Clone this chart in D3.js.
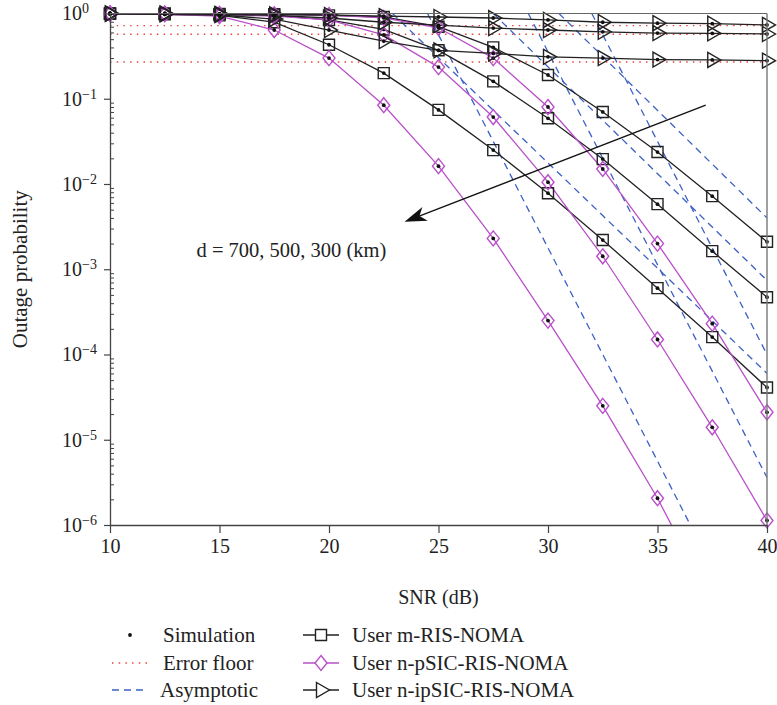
<!DOCTYPE html>
<html><head><meta charset="utf-8">
<script src="https://cdn.jsdelivr.net/npm/d3@7"></script>
<style>
body{margin:0;background:#fff}
svg{display:block}
text{font-family:"Liberation Serif","Times New Roman",serif;fill:#222}
</style>
</head><body>
<svg id="chart" width="777" height="705"></svg>
<script>
// ---------------- data ----------------
const snr = [10, 12.5, 15, 17.5, 20, 22.5, 25, 27.5, 30, 32.5, 35, 37.5, 40];
const xTicks = [10, 15, 20, 25, 30, 35, 40];
const yExponents = [0, -1, -2, -3, -4, -5, -6];

// User m-RIS-NOMA (squares), three distances
const mUser1 = [0.99, 0.98, 0.95, 0.79, 0.43, 0.20, 0.074, 0.025, 0.0078, 0.0022, 6.0e-4, 1.6e-4, 4.1e-5];
const mUser2 = [1.0, 0.99, 0.98, 0.95, 0.84, 0.65, 0.37, 0.16, 0.059, 0.0196, 0.0058, 0.00163, 4.7e-4];
const mUser3 = [1.0, 1.0, 0.99, 0.98, 0.95, 0.91, 0.70, 0.40, 0.19, 0.070, 0.0237, 0.0072, 0.0021];

// User n-pSIC-RIS-NOMA (diamonds)
const pUser1 = [0.99, 0.98, 0.93, 0.64, 0.30, 0.084, 0.0162, 0.0023, 2.5e-4, 2.5e-5, 2.06e-6, 1.2e-7, null];
const pUser2 = [1.0, 0.99, 0.97, 0.93, 0.84, 0.56, 0.235, 0.061, 0.0105, 0.00142, 1.5e-4, 1.4e-5, 1.13e-6];
const pUser3 = [1.0, 1.0, 0.99, 0.98, 0.96, 0.89, 0.68, 0.30, 0.08, 0.015, 0.002, 2.3e-4, 2.1e-5];

// User n-ipSIC-RIS-NOMA (triangles)
const iUser1 = [0.99, 0.98, 0.96, 0.86, 0.64, 0.475, 0.37, 0.34, 0.31, 0.30, 0.288, 0.285, 0.28];
const iUser2 = [1.0, 0.99, 0.98, 0.95, 0.885, 0.79, 0.73, 0.675, 0.64, 0.61, 0.59, 0.585, 0.575];
const iUser3 = [1.0, 1.0, 0.99, 0.98, 0.96, 0.93, 0.91, 0.885, 0.84, 0.79, 0.77, 0.76, 0.735];

// Error floors (ipSIC)
const errorFloors = [0.72, 0.57, 0.27];

// Asymptotic lines: [snr, value] endpoints
const asymM1 = [[22.9, 1], [40, 6.0e-5]];
const asymM2 = [[27.5, 1], [40, 7.4e-4]];
const asymM3 = [[30.5, 1], [40, 4.0e-3]];
const asymP1 = [[24.5, 1], [36.5, 1e-6]];
const asymP2 = [[29.1, 1], [40, 3.6e-6]];
const asymP3 = [[32.0, 1], [40, 1e-4]];

// annotation
const annoText = "d = 700, 500, 300 (km)";
const arrowFrom = [37.2, 0.084];
const arrowTo = [23.45, 0.0036];
const annoPos = [13.95, 1.4e-3];

// legend labels
const legendLeft = ["Simulation", "Error floor", "Asymptotic"];
const legendRight = ["User m-RIS-NOMA", "User n-pSIC-RIS-NOMA", "User n-ipSIC-RIS-NOMA"];

// ---------------- drawing ----------------
const BLACK = "#222", PINK = "#b94fc9", BLUE = "#3d62c4", RED = "#e8463a";
const svg = d3.select("#chart");
const L = 110, R = 767, T = 13.5, B = 525;
const x = d3.scaleLinear().domain([10, 40]).range([L, R]);
const y = d3.scaleLog().domain([1e-6, 1]).range([B, T]);

svg.append("defs").append("clipPath").attr("id", "plotclip")
  .append("rect").attr("x", L).attr("y", T).attr("width", R - L).attr("height", B - T);

const plot = svg.append("g").attr("clip-path", "url(#plotclip)");

// error floors
errorFloors.forEach(v => {
  plot.append("line").attr("x1", x(10)).attr("x2", x(40)).attr("y1", y(v)).attr("y2", y(v))
    .attr("stroke", RED).attr("stroke-width", 1.4).attr("stroke-dasharray", "1.5,5.2");
});

// asymptotes
const aLine = d3.line().x(d => x(d[0])).y(d => y(d[1]));
[asymM1, asymM2, asymM3, asymP1, asymP2, asymP3].forEach(a => {
  plot.append("path").attr("d", aLine(a)).attr("fill", "none").attr("stroke", BLUE)
    .attr("stroke-width", 1.3).attr("stroke-dasharray", "7,5");
});

// curves
const series = [
  {vals: mUser1, color: BLACK, mk: "square"},
  {vals: mUser2, color: BLACK, mk: "square"},
  {vals: mUser3, color: BLACK, mk: "square"},
  {vals: pUser1, color: PINK, mk: "diamond"},
  {vals: pUser2, color: PINK, mk: "diamond"},
  {vals: pUser3, color: PINK, mk: "diamond"},
  {vals: iUser1, color: BLACK, mk: "tri"},
  {vals: iUser2, color: BLACK, mk: "tri"},
  {vals: iUser3, color: BLACK, mk: "tri"}
];
const cLine = d3.line().defined(d => d[1] != null).x(d => x(d[0])).y(d => y(d[1]));
series.forEach(s => {
  const pts = snr.map((v, i) => [v, s.vals[i]]);
  plot.append("path").attr("d", cLine(pts)).attr("fill", "none")
    .attr("stroke", s.color).attr("stroke-width", 1.3);
});

function markerPath(type) {
  if (type === "square") return "M-5.5,-5.5H5.5V5.5H-5.5Z";
  if (type === "diamond") return "M0,-7.5L6,0L0,7.5L-6,0Z";
  return "M-4.5,-7.5L8.5,0L-4.5,7.5Z";
}
const mg = svg.append("g");
series.forEach(s => {
  snr.forEach((v, i) => {
    const val = s.vals[i];
    if (val == null || val < 1e-6) return;
    mg.append("path").attr("d", markerPath(s.mk))
      .attr("transform", `translate(${x(v)},${y(val)})`)
      .attr("fill", "none").attr("stroke", s.color).attr("stroke-width", 1.4);
    mg.append("circle").attr("cx", x(v)).attr("cy", y(val)).attr("r", 1.9).attr("fill", "#111");
  });
});

// frame (top/right)
svg.append("line").attr("x1", L).attr("x2", R).attr("y1", T).attr("y2", T).attr("stroke", "#666").attr("stroke-width", 1.2);
svg.append("line").attr("x1", R).attr("x2", R).attr("y1", T).attr("y2", B).attr("stroke", "#777").attr("stroke-width", 1.4);

// x axis
const xAxis = svg.append("g").attr("transform", `translate(0,${B})`)
  .call(d3.axisBottom(x).tickValues(xTicks).tickSize(8).tickSizeOuter(0).tickPadding(6).tickFormat(d3.format("d")));
xAxis.select(".domain").attr("stroke", "#444").attr("stroke-width", 1.3);
xAxis.selectAll(".tick line").attr("stroke", "#444").attr("stroke-width", 1.2);
xAxis.selectAll("text").attr("font-size", 20).attr("font-family", "Liberation Serif").attr("fill", "#222");

// y axis: minor ticks inward
const minor = [];
for (let e = -6; e < 0; e++) for (let k = 2; k <= 9; k++) minor.push(k * Math.pow(10, e));
const yMinor = svg.append("g").attr("transform", `translate(${L},0)`)
  .call(d3.axisRight(y).tickValues(minor).tickSize(4).tickFormat(""));
yMinor.select(".domain").remove();
yMinor.selectAll(".tick line").attr("stroke", "#444").attr("stroke-width", 1);

const yAxis = svg.append("g").attr("transform", `translate(${L},0)`)
  .call(d3.axisLeft(y).tickValues(yExponents.map(e => Math.pow(10, e))).tickSize(6).tickSizeOuter(0).tickFormat(""));
yAxis.select(".domain").attr("stroke", "#444").attr("stroke-width", 1.3);
yAxis.selectAll(".tick line").attr("stroke", "#444").attr("stroke-width", 1.2).attr("x2", -6);
yAxis.selectAll(".tick").each(function(d) {
  const e = Math.round(Math.log10(d));
  const t = d3.select(this).append("text").attr("x", -48).attr("y", 0).attr("dy", "0.32em")
    .attr("text-anchor", "start").attr("font-size", 20).attr("fill", "#222");
  t.append("tspan").text("10");
  t.append("tspan").attr("dy", "-0.5em").attr("font-size", 14).text(e === 0 ? "0" : "\u2212" + Math.abs(e));
});

// axis titles
svg.append("text").attr("x", (L + R) / 2).attr("y", 604).attr("text-anchor", "middle")
  .attr("font-size", 20).text("SNR (dB)");
svg.append("text").attr("transform", `translate(27,${(T + B) / 2}) rotate(-90)`)
  .attr("text-anchor", "middle").attr("font-size", 21).text("Outage probability");

// annotation arrow
const ax1 = x(arrowFrom[0]), ay1 = y(arrowFrom[1]), ax2 = x(arrowTo[0]), ay2 = y(arrowTo[1]);
const ang = Math.atan2(ay1 - ay2, ax1 - ax2) * 180 / Math.PI;
svg.append("line").attr("x1", ax1).attr("y1", ay1)
  .attr("x2", ax2 + 15 * Math.cos(ang * Math.PI / 180)).attr("y2", ay2 + 15 * Math.sin(ang * Math.PI / 180))
  .attr("stroke", "#111").attr("stroke-width", 1.3);
svg.append("path").attr("d", "M0,0L22,-7.5L16,0L22,7.5Z")
  .attr("transform", `translate(${ax2},${ay2}) rotate(${ang})`).attr("fill", "#111");
svg.append("text").attr("x", x(annoPos[0])).attr("y", y(annoPos[1])).attr("font-size", 20.5).text(annoText);

// legend
const rowY = [635, 663, 690];
const lg = svg.append("g");
// left column
lg.append("circle").attr("cx", 130).attr("cy", rowY[0]).attr("r", 1.9).attr("fill", "#111");
lg.append("line").attr("x1", 112).attr("x2", 148).attr("y1", rowY[1]).attr("y2", rowY[1])
  .attr("stroke", RED).attr("stroke-width", 1.3).attr("stroke-dasharray", "1.5,5.2");
lg.append("line").attr("x1", 112).attr("x2", 148).attr("y1", rowY[2]).attr("y2", rowY[2])
  .attr("stroke", BLUE).attr("stroke-width", 1.3).attr("stroke-dasharray", "7,5");
legendLeft.forEach((t, i) => {
  lg.append("text").attr("x", i === 2 ? 160 : 163).attr("y", rowY[i]).attr("dy", "0.33em")
    .attr("font-size", 21).text(t);
});
// right column
const legMk = [["square", BLACK], ["diamond", PINK], ["tri", BLACK]];
legendRight.forEach((t, i) => {
  lg.append("line").attr("x1", 303).attr("x2", 339).attr("y1", rowY[i]).attr("y2", rowY[i])
    .attr("stroke", legMk[i][1]).attr("stroke-width", 1.3);
  lg.append("path").attr("d", markerPath(legMk[i][0]))
    .attr("transform", `translate(321,${rowY[i]})`).attr("fill", "#fff")
    .attr("stroke", legMk[i][1]).attr("stroke-width", 1.4);
  lg.append("text").attr("x", 352).attr("y", rowY[i]).attr("dy", "0.33em")
    .attr("font-size", 21).text(t);
});
</script>
</body></html>
